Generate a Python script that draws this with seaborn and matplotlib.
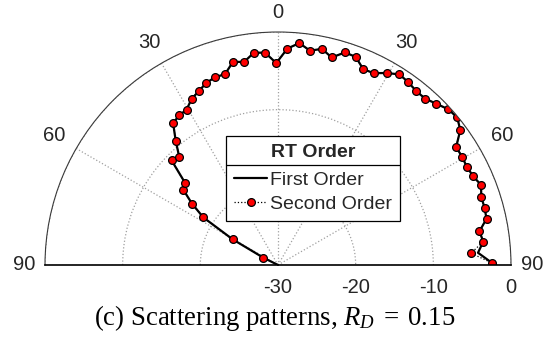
import numpy as np
import matplotlib
matplotlib.use("Agg")
import matplotlib.pyplot as plt
import seaborn as sns
from matplotlib.lines import Line2D

# ---------------- data (degrees / dB) ----------------
theta_second_deg = [-63.5, -60.5, -57.5, -54.5, -51.5, -48.5, -45.5, -42.5, -39.5, -36.5,
                    -33.5, -30.5, -27.5, -24.5, -21.5, -18.5, -15.5, -12.5, -9.5, -6.5,
                    -3.5, -0.5, 2.5, 5.5, 8.5, 11.5, 14.5, 17.5, 20.5, 23.5,
                    26.5, 29.5, 32.5, 35.5, 38.5, 41.5, 44.5, 47.5, 50.5, 53.5,
                    56.5, 59.5, 62.5, 65.5, 68.5, 71.5, 74.5, 77.5, 80.5, 83.5,
                    86.5, 89.5]
r_second_db = [-27.9, -23.3, -18.6, -16.4, -14.4, -14.0, -10.8, -11.2, -9.3, -7.3,
               -6.9, -6.8, -5.9, -5.4, -4.8, -4.5, -4.5, -3.2, -3.5, -2.5,
               -2.6, -4.0, -2.1, -1.3, -2.1, -1.6, -2.4, -1.3, -1.4, -2.5,
               -2.4, -1.6, -0.9, -1.1, -1.4, -1.4, -0.9, -0.3, -0.1, -0.8,
               -2.5, -2.5, -2.6, -2.4, -1.9, -2.4, -2.4, -2.5, -3.7, -3.4,
               -5.1, -2.4]

theta_first_deg = [-66.5, -63.5, -60.5, -57.5, -54.5, -51.5, -48.5, -45.5, -42.5, -39.5, -36.5,
                   -33.5, -30.5, -27.5, -24.5, -21.5, -18.5, -15.5, -12.5, -9.5, -6.5,
                   -3.5, -0.5, 2.5, 5.5, 8.5, 11.5, 14.5, 17.5, 20.5, 23.5,
                   26.5, 29.5, 32.5, 35.5, 38.5, 41.5, 44.5, 47.5, 50.5, 53.5,
                   56.5, 59.5, 62.5, 65.5, 68.5, 71.5, 74.5, 77.5, 80.5, 83.5,
                   86.5, 89.5, 90.0]
r_first_db = [-30.0, -27.9, -23.3, -18.6, -16.4, -14.4, -14.0, -10.8, -11.2, -9.3, -7.3,
              -6.9, -6.8, -5.9, -5.4, -4.8, -4.5, -4.5, -3.2, -3.5, -2.5,
              -2.6, -4.0, -2.1, -1.3, -2.1, -1.6, -2.4, -1.3, -1.4, -2.5,
              -2.4, -1.6, -0.9, -1.1, -1.4, -1.4, -0.9, -0.3, -0.1, -0.8,
              -2.5, -2.5, -2.6, -2.4, -1.9, -2.4, -2.4, -2.5, -3.7, -3.4,
              -4.2, -2.4, -1.9]

theta_tick_angles = [-90, -60, -30, 0, 30, 60, 90]
theta_tick_labels = ["90", "60", "30", "0", "30", "60", "90"]
r_ticks = [-30, -20, -10, 0]
r_tick_labels = ["-30", "-20", "-10", "0"]
series_names = ["First Order", "Second Order"]
legend_title = "RT Order"
caption = r"(c) Scattering patterns, $R_D\;=\;0.15$"

# ---------------- style ----------------
sns.set_style("white")
plt.rcParams["font.family"] = ["Liberation Sans", "DejaVu Sans"]
plt.rcParams["mathtext.fontset"] = "custom"
plt.rcParams["mathtext.rm"] = "Liberation Serif"
plt.rcParams["mathtext.it"] = "Liberation Serif:italic"

W, H = 545, 339
fig = plt.figure(figsize=(W / 100, H / 100), dpi=100)
cx, cy, R = 278, 265, 233
# polar half-wedge sits in a square box; its centre is at 1/4 of the box height
side = 2 * R
bottom_px = (H - cy) - 0.25 * side
ax = fig.add_axes([(cx - R) / W, bottom_px / H, side / W, side / H], projection="polar")
ax.set_theta_zero_location("N")
ax.set_theta_direction(-1)
ax.set_thetamin(-90)
ax.set_thetamax(90)

sns.lineplot(x=np.deg2rad(theta_first_deg), y=r_first_db, ax=ax, color="black",
             linewidth=1.6, estimator=None, sort=False, label=series_names[0])
sns.lineplot(x=np.deg2rad(theta_second_deg), y=r_second_db, ax=ax, color="black",
             linewidth=0.9, linestyle=":", marker="o", markersize=5.6,
             markerfacecolor="red", markeredgecolor="black", markeredgewidth=0.9,
             estimator=None, sort=False, label=series_names[1])

ax.set_ylim(-30, 0)
ax.set_xticks(np.deg2rad(theta_tick_angles))
ax.set_xticklabels([])
ax.set_yticks(r_ticks)
ax.set_yticklabels([])
ax.set_xlabel("")
ax.set_ylabel("")
ax.tick_params(length=0)
ax.grid(True, color="#a0a0a0", linestyle=":", linewidth=0.9)
ax.spines["polar"].set_color("#3a3a3a")
ax.spines["polar"].set_linewidth(0.8)
for s in ("start", "end"):
    ax.spines[s].set_color("black")
    ax.spines[s].set_linewidth(1.2)
ax.spines["inner"].set_visible(False)

tick_col = "#262626"
label_r = [2.7, 3.3, 3.1, 2.45, 3.1, 3.3, 2.7]
for ang, lab, lr in zip(theta_tick_angles, theta_tick_labels, label_r):
    ax.text(np.deg2rad(ang), lr, lab, ha="center", va="center", fontsize=14.5,
            color=tick_col, clip_on=False)
for rv, lab in zip(r_ticks, r_tick_labels):
    ax.annotate(lab, xy=(np.deg2rad(90), rv), xytext=(0, -16), textcoords="offset points",
                ha="center", va="center", fontsize=14.5, color=tick_col, annotation_clip=False)

handles, labels = ax.get_legend_handles_labels()
leg = ax.legend(handles, labels, title=legend_title, loc="center",
                bbox_to_anchor=(313 / W, 1 - 178.5 / H), bbox_transform=fig.transFigure,
                frameon=True, fancybox=False, edgecolor="black", framealpha=1,
                fontsize=14, title_fontproperties={"weight": "bold", "size": 14},
                handlelength=1.7, handletextpad=0.15, borderpad=0.4, labelspacing=0.35,
                borderaxespad=0)
leg._legend_box.sep = 7.5
leg.get_frame().set_linewidth(0.9)

fig.text(275 / W, 1 - 318 / H, caption, ha="center", va="center", fontsize=19.3,
         family=["Liberation Serif"], color="black")

fig.canvas.draw()
rend = fig.canvas.get_renderer()
fb = leg.get_frame().get_window_extent(rend)
tb = leg.get_title().get_window_extent(rend)
ysep = 0.5 * (tb.y0 + tb.y1) - 12.7
fig.add_artist(Line2D([fb.x0, fb.x1], [ysep, ysep], transform=None, color="black", linewidth=0.9))

fig.savefig("out.png", dpi=100)
